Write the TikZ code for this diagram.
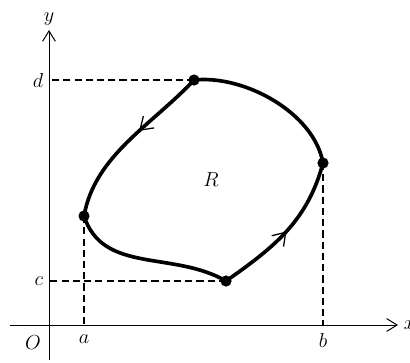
\documentclass[tikz,border=0pt]{standalone}
\usepackage{tikz}
\usetikzlibrary{positioning, arrows.meta, decorations.markings}

\begin{document}
\begin{tikzpicture}[font=\Large, every node/.style={inner sep=1pt},
  axis/.style={line width=0.7pt, -{Straight Barb[length=2.6mm, width=3.2mm]}},
  proj/.style={line width=0.75pt, dash pattern=on 5pt off 3pt},
  corner/.style={circle, fill, inner sep=0pt, minimum size=2.8mm},
  bound/.style={line width=2.6pt, line join=round, line cap=round},
  flow/.style={postaction={decorate}, decoration={markings, mark=at position #1 with {\arrow{Straight Barb[length=3mm, width=4mm, line width=0.9pt]}}}}]
  \useasboundingbox (-1.225,-0.925) rectangle (9.025,8.125);
  % axes
  \coordinate (O) at (0,0);
  \coordinate (xstart) at (-0.975,0);
  \coordinate (xend) at (8.725,0);
  \coordinate (ystart) at (0,-0.875);
  \coordinate (yend) at (0,7.375);
  \draw[axis] (xstart) -- (xend);
  \draw[axis] (ystart) -- (yend);
  \node[anchor=west] (xlab) at ([xshift=3pt]xend) {$x$};
  \node[above=2pt of yend] (ylab) {$y$};
  \node (olab) at (-0.4,-0.45) {$O$};
  % corner points of the region
  \node[corner] (ptop) at (3.625,6.125) {};
  \node[corner] (pright) at (6.85,4.05) {};
  \node[corner] (pleft) at (0.875,2.725) {};
  \node[corner] (pbot) at (4.425,1.1) {};
  % projections onto the axes
  \draw[proj] (ptop.center) -- (ptop -| O);
  \draw[proj] (pbot.center) -- (pbot -| O);
  \draw[proj] (pleft.center) -- (pleft |- O);
  \draw[proj] (pright.center) -- (pright |- O);
  \node[left=3pt of {ptop -| O}] (dlab) {$d$};
  \node[left=3pt of {pbot -| O}] (clab) {$c$};
  \node[below=6pt of {pleft |- O}] (alab) {$a$};
  \node[below=5pt of {pright |- O}] (blab) {$b$};
  % boundary curve, one piece per side
  \draw[bound, flow=0.42] (ptop.center) to[out=227, in=80, looseness=0.9] (pleft.center);
  \draw[bound] (pleft.center) to[out=-72, in=150] (pbot.center);
  \draw[bound, flow=0.5] (pbot.center) to[out=35, in=-105] (pright.center);
  \draw[bound] (pright.center) to[out=100, in=6, looseness=0.85] (ptop.center);
  \node (rlab) at (4.05,3.625) {$R$};
\end{tikzpicture}
\end{document}
